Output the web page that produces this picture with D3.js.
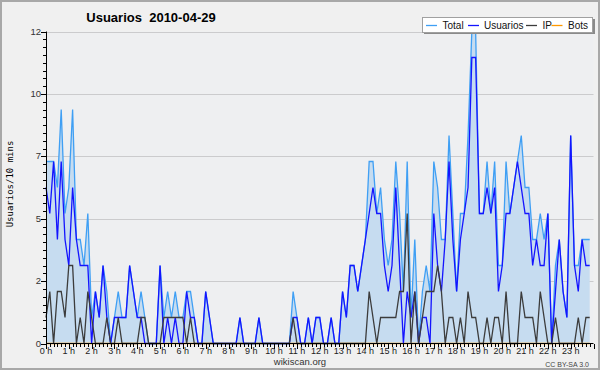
<!DOCTYPE html>
<html><head><meta charset="utf-8">
<script src="https://cdn.jsdelivr.net/npm/d3@7/dist/d3.min.js"></script>
<style>body{margin:0;background:#fff}svg{display:block}</style>
</head><body><svg id="c" width="600" height="370"></svg>
<script>
const title = "Usuarios  2010-04-29";
const yLabel = "Usuarios/10 mins";
const seriesNames = ["Total", "Usuarios", "IP", "Bots"];
const hourLabels = ["0 h","1 h","2 h","3 h","4 h","5 h","6 h","7 h","8 h","9 h","10 h","11 h","12 h","13 h","14 h","15 h","16 h","17 h","18 h","19 h","20 h","21 h","22 h","23 h"];
const yTickValues = [0, 2.4, 4.8, 7.2, 9.6, 12];
const yTickLabels = ["0", "2", "5", "7", "10", "12"];
// one value per 10 minutes (144 per day)
const total = [7,7,7,6,9,5,6,9,4,4,3,5, 1,2,1,3,2,0,1,2,1,1,3,2, 1,2,1,0,0,0,3,1,2,1,2,1,
  1,2,2,1,0,0,2,1,0,0,0,0, 0,0,0,1,0,0,0,0,1,0,0,0, 0,0,0,0,0,2,1,0,0,1,0,1,
  1,0,0,1,0,0,2,1,3,3,2,3, 4,7,7,5,6,4,3,4,7,5,2,7, 1,4,0,2,3,2,7,6,4,4,8,5,
  2,5,5,8,12,12,5,5,7,5,7,3, 3,7,5,6,7,8,6,6,4,4,5,4, 5,0,3,4,2,1,8,3,3,4,4,4];
const usuarios = [6,5,7,4,7,4,3,6,4,3,3,3, 0,2,1,3,1,0,1,1,1,1,3,2, 1,1,0,0,0,0,3,0,1,0,1,0,
  0,2,1,1,0,0,2,1,0,0,0,0, 0,0,0,1,0,0,0,0,1,0,0,0, 0,0,0,0,0,1,1,0,0,1,0,1,
  1,0,0,1,0,0,2,1,3,3,2,3, 4,5,6,5,5,3,2,3,6,3,0,2, 1,2,0,1,1,0,5,3,2,4,7,4,
  2,4,5,6,11,11,5,5,6,5,6,2, 3,5,5,6,7,6,5,5,3,4,3,3, 5,0,2,4,2,1,8,3,2,4,3,3];
const ip = [1,2,0,2,2,1,3,3,0,1,0,2, 1,0,0,0,1,0,0,1,0,0,0,0, 0,1,1,0,0,0,0,1,1,1,1,1,
  1,0,1,0,0,0,0,0,0,0,0,0, 0,0,0,0,0,0,0,0,0,0,0,0, 0,0,0,0,0,1,0,0,0,0,0,0,
  0,0,0,0,0,0,0,0,0,0,0,0, 0,2,1,0,1,1,1,1,1,2,2,5, 0,2,0,1,2,2,2,3,2,0,1,1,
  0,1,0,2,1,1,0,0,1,0,1,1, 0,2,0,0,0,2,1,1,1,0,2,1, 0,0,1,0,0,0,0,0,1,0,1,1];
const bots = [0,0,0,0,0,0,0,0,0,0,0,0, 0,0,0,0,0,0,0,0,0,0,0,0, 0,0,0,0,0,0,0,0,0,0,0,0,
  0,0,0,0,0,0,0,0,0,0,0,0, 0,0,0,0,0,0,0,0,0,0,0,0, 0,0,0,0,0,0,0,0,0,0,0,0,
  0,0,0,0,0,0,0,0,0,0,0,0, 0,0,0,0,0,0,0,0,0,0,0,0, 0,0,0,0,0,0,0,0,0,0,0,0,
  0,0,0,0,0,0,0,0,0,0,0,0, 0,0,0,0,0,0,0,0,0,0,0,0, 0,0,0,0,0,0,0,0,0,0,0,0];

const colors = {Total:"#3f9ff4", Usuarios:"#1414ff", IP:"#3c3c3c", Bots:"#ff9900"};
const fillColor = "#c6dcf0";

const svg = d3.select("#c");
const W = 600, H = 370;
const x = d3.scaleLinear().domain([0, 144]).range([46, 593.5]);
const y = d3.scaleLinear().domain([0, 12]).range([343.5, 31.5]);

svg.append("rect").attr("x",0).attr("y",0).attr("width",W).attr("height",H).attr("fill","#f0f0f0");
svg.append("rect").attr("x",1).attr("y",1).attr("width",W-2).attr("height",H-2)
  .attr("fill","none").attr("stroke","#a8a8a8").attr("stroke-width",2);
svg.append("rect").attr("x",x(0)).attr("y",y(12)).attr("width",x(144)-x(0)).attr("height",y(0)-y(12)).attr("fill","#eeeff1");

// grid
svg.append("g").selectAll("line").data(yTickValues.filter(d=>d>0)).join("line")
  .attr("x1",x(0)).attr("x2",x(144)).attr("y1",d=>Math.round(y(d))+0.5).attr("y2",d=>Math.round(y(d))+0.5)
  .attr("stroke","#cbcbcd").attr("stroke-width",1);

const idx = d3.range(total.length);
const area = d3.area().x(i=>x(i)).y0(y(0)).y1(i=>y(total[i]));
svg.append("path").datum(idx).attr("d",area).attr("fill",fillColor);
function line(arr){ return d3.line().x(i=>x(i)).y(i=>y(arr[i]))(idx); }
[[bots,"Bots"],[total,"Total"],[usuarios,"Usuarios"],[ip,"IP"]].forEach(([arr,n])=>{
  svg.append("path").attr("d",line(arr)).attr("fill","none").attr("stroke",colors[n]).attr("stroke-width",1.3).attr("stroke-linejoin","miter");
});

// y axis
const yMinor = d3.range(0, 12.001, 0.3);
const yAx = svg.append("g");
yAx.selectAll("line.mi").data(yMinor).join("line").attr("class","mi")
  .attr("x1",43).attr("x2",46).attr("y1",d=>Math.round(y(d))+0.5).attr("y2",d=>Math.round(y(d))+0.5).attr("stroke","#000");
yAx.selectAll("line.ma").data(yTickValues).join("line").attr("class","ma")
  .attr("x1",41).attr("x2",46).attr("y1",d=>Math.round(y(d))+0.5).attr("y2",d=>Math.round(y(d))+0.5).attr("stroke","#000");
yAx.append("line").attr("x1",46.5).attr("x2",46.5).attr("y1",y(12)).attr("y2",y(0)+1).attr("stroke","#000").attr("stroke-width",1);
yAx.selectAll("text").data(yTickValues).join("text")
  .attr("x",41).attr("y",d=>y(d)+3).attr("text-anchor","end")
  .attr("font-family","Liberation Sans, Arial, sans-serif").attr("font-size",9.5).attr("fill","#333")
  .text((d,i)=>yTickLabels[i]);

// x axis
const xAx = svg.append("g");
xAx.append("line").attr("x1",46).attr("x2",x(144)).attr("y1",343.5).attr("y2",343.5).attr("stroke","#000");
xAx.selectAll("line.t").data(d3.range(0,145)).join("line").attr("class","t")
  .attr("x1",d=>Math.round(x(d))+0.5).attr("x2",d=>Math.round(x(d))+0.5)
  .attr("y1",344).attr("y2",d=> d%6===0 ? 349 : 347).attr("stroke","#000");
xAx.selectAll("text").data(hourLabels).join("text")
  .attr("x",(d,i)=>x(i*6)).attr("y",354).attr("text-anchor","middle")
  .attr("font-family","Liberation Sans, Arial, sans-serif").attr("font-size",9).attr("fill","#222")
  .text(d=>d);

// title & labels
svg.append("text").attr("x",151).attr("y",21.5).attr("text-anchor","middle")
  .attr("font-family","Liberation Sans, Arial, sans-serif").attr("font-weight","bold").attr("font-size",13)
  .style("white-space","pre").attr("fill","#000").text(title);
svg.append("text").attr("transform","translate(13,184) rotate(-90)").attr("text-anchor","middle")
  .attr("font-family","DejaVu Sans Mono, monospace").attr("font-size",9).attr("fill","#000").text(yLabel);
svg.append("text").attr("x",300).attr("y",365).attr("text-anchor","middle")
  .attr("font-family","Liberation Sans, Arial, sans-serif").attr("font-size",9.5).attr("fill","#333").text("wikiscan.org");
svg.append("text").attr("x",589).attr("y",367).attr("text-anchor","end")
  .attr("font-family","Liberation Sans, Arial, sans-serif").attr("font-size",7).attr("fill","#444").text("CC BY-SA 3.0");

// legend
const lg = svg.append("g");
lg.append("rect").attr("x",424).attr("y",19).attr("width",171).attr("height",15).attr("fill","#8a8a8a");
lg.append("rect").attr("x",422.5).attr("y",17.5).attr("width",170).attr("height",15).attr("fill","#fff").attr("stroke","#a0a0a0");
const items = [[426,442.5],[468,484],[526,542.5],[551.5,568]];
seriesNames.forEach((n,i)=>{
  lg.append("line").attr("x1",items[i][0]).attr("x2",items[i][0]+11).attr("y1",25.5).attr("y2",25.5).attr("stroke",colors[n]).attr("stroke-width",1.3);
  lg.append("text").attr("x",items[i][1]).attr("y",29).attr("font-family","Liberation Sans, Arial, sans-serif")
    .attr("font-size",10).attr("fill","#111").text(n);
});
</script></body></html>
